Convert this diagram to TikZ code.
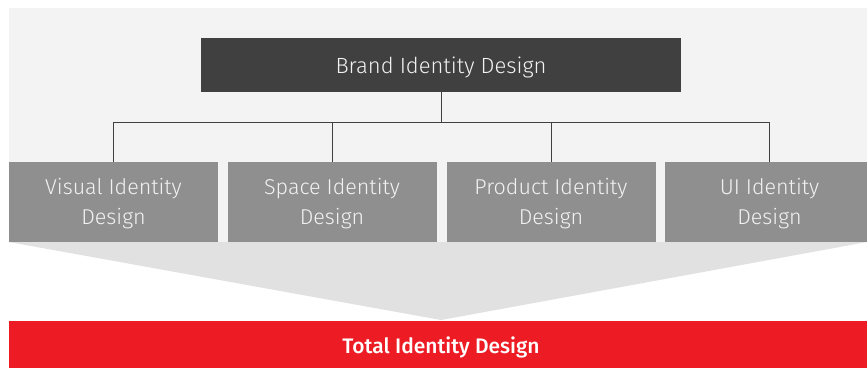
\documentclass[tikz,border=0pt]{standalone}
\usepackage{fontspec}
\setmainfont{Fira Sans Light}[BoldFont={Fira Sans Medium}]
\definecolor{bgc}{HTML}{F3F3F3}
\definecolor{darkc}{HTML}{404041}
\definecolor{boxc}{HTML}{8E8F8E}
\definecolor{func}{HTML}{E1E1E1}
\definecolor{redc}{HTML}{ED1C24}
\definecolor{txtc}{HTML}{F2F2F2}
\definecolor{linec}{HTML}{404040}
\begin{document}
\begin{tikzpicture}[x=1pt,y=-1pt,
  topbox/.style={fill=darkc,minimum width=480pt,minimum height=54pt,inner sep=0pt},
  toptext/.style={text=txtc,inner sep=0pt,font=\fontsize{22}{26}\selectfont},
  subbox/.style={fill=boxc,minimum width=209pt,minimum height=80pt,inner sep=0pt},
  subtext/.style={text=txtc,inner sep=0pt,align=center,font=\fontsize{21.5}{30}\selectfont},
  redbar/.style={fill=redc,minimum width=858pt,minimum height=47pt,inner sep=0pt},
  redtext/.style={text=white,inner sep=0pt,font=\bfseries\fontsize{21}{25}\selectfont},
  conn/.style={draw=linec,line width=1pt}]
\useasboundingbox[fill=white] (0,0) rectangle (867,368);
\fill[bgc] (9,8) rectangle (867,242);
\fill[func] (9,242) -- (867,242) -- (441,320) -- cycle;
\node[topbox] (brand) at (441,65) {};
\node[toptext] (brandlbl) at (441,67.5) {Brand Identity Design};
\foreach \n/\x/\t in {vis/113.5/Visual Identity, spa/332/Space Identity, pro/551/Product Identity, ui/769.5/UI Identity}{
  \node[subbox] (\n) at (\x,202) {};
  \node[subtext] (\n lbl) at (\x,204) {\t\\Design};
}
\node[redbar] (tot) at (438,344.5) {};
\node[redtext] (totlbl) at (441,347.5) {Total Identity Design};
\coordinate (bus) at (441,122);
\draw[conn] (brand.south) -- (brand.south |- bus);
\draw[conn] (vis.north |- bus) -- (ui.north |- bus);
\foreach \n in {vis,spa,pro,ui} \draw[conn] (\n.north |- bus) -- (\n.north);
\end{tikzpicture}
\end{document}
